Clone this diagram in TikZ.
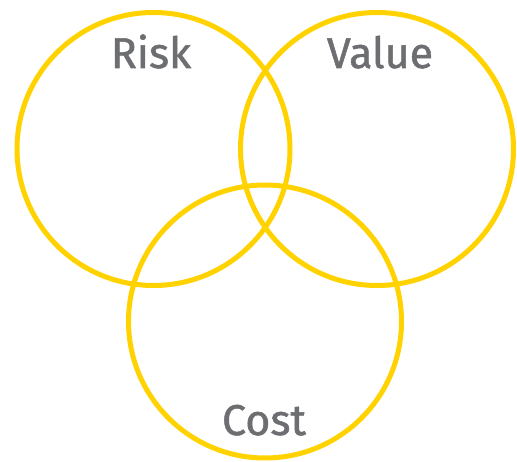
\documentclass[tikz,border=0pt]{standalone}
\usepackage{fontspec}
\setmainfont{Fira Sans}[FakeBold=1.2]
\definecolor{eyyellow}{HTML}{FFD200}
\definecolor{eygray}{HTML}{6D6E71}
\begin{document}
\begin{tikzpicture}[x=1pt,y=-1pt,
  ring/.style={draw=eyyellow,line width=5pt,circle,minimum size=273pt,inner sep=0pt},
  lbl/.style={text=eygray,font=\fontsize{43}{43}\selectfont,anchor=base,inner sep=0pt}]
\useasboundingbox (0,0) rectangle (517,462);
\node[ring] (risk) at (153.5,149) {};
\node[ring] (value) at (377,149) {};
\node[ring] (cost) at (265,321.5) {};
\node[lbl] (trisk) at (151,68) {Risk};
\node[lbl] (tvalue) at (380,68) {Value};
\node[lbl] (tcost) at (264,435) {Cost};
\end{tikzpicture}
\end{document}
